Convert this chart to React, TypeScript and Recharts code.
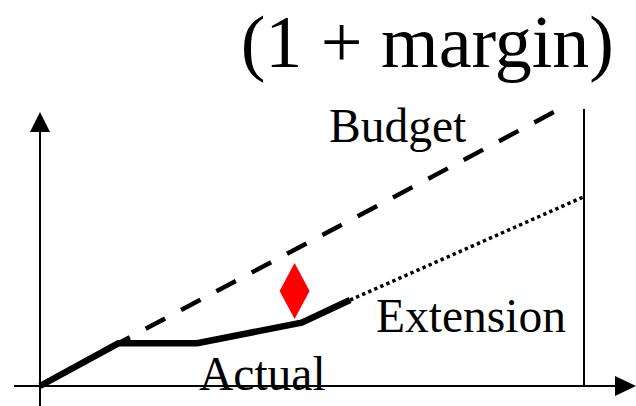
import { ComposedChart, Line, ReferenceDot, ReferenceLine, Scatter, XAxis, YAxis } from 'recharts';

// time in % of schedule (100 = deadline), cost in % of budget
const actual = [
  { x: 0, y: 0 },
  { x: 14.4, y: 15.7 },
  { x: 28.9, y: 15.7 },
  { x: 48.1, y: 23.3 },
  { x: 57.0, y: 31.6 },
];
const budget = [
  { x: 14.4, y: 15.7 },
  { x: 95.2, y: 101.5 },
];
const extension = [
  { x: 57.0, y: 31.6 },
  { x: 100, y: 69.6 },
];
const gap = [{ x: 46.8, y: 34.9 }];
const deadline = { x: 100, top: 101.8 };

const X_DOMAIN: [number, number] = [-4.779, 109.559];
const Y_DOMAIN: [number, number] = [-7.353, 102.94];
const Y_ARROW_TIP = 100.74;

const serif = '"Liberation Serif", "Times New Roman", serif';

const Diamond = (props: any) => {
  const { cx, cy } = props;
  return (
    <polygon
      points={`${cx},${cy - 28} ${cx + 15},${cy} ${cx},${cy + 28} ${cx - 15},${cy}`}
      fill="#ff0000"
    />
  );
};

const App = () => {
  return (
    <div style={{ position: 'absolute', left: 0, top: 0, width: 636, height: 406, background: '#fff' }}>
      <ComposedChart width={636} height={406} margin={{ top: 106, right: 0, bottom: 0, left: 14 }}>
        <XAxis type="number" dataKey="x" domain={X_DOMAIN} allowDataOverflow hide />
        <YAxis type="number" dataKey="y" domain={Y_DOMAIN} allowDataOverflow hide />
        <ReferenceLine
          segment={[{ x: X_DOMAIN[0], y: 0 }, { x: 105.7, y: 0 }]}
          stroke="#000"
          strokeWidth={2}
          ifOverflow="visible"
        />
        <ReferenceLine
          segment={[{ x: 0, y: Y_DOMAIN[0] }, { x: 0, y: 94 }]}
          stroke="#000"
          strokeWidth={2}
          ifOverflow="visible"
        />
        <ReferenceLine
          segment={[{ x: deadline.x, y: 0 }, { x: deadline.x, y: deadline.top }]}
          stroke="#000"
          strokeWidth={2}
          ifOverflow="visible"
        />
        <ReferenceDot
          x={0}
          y={Y_ARROW_TIP}
          ifOverflow="visible"
          shape={(p: any) => (
            <polygon points={`${p.cx},${p.cy} ${p.cx - 10},${p.cy + 20} ${p.cx + 10},${p.cy + 20}`} fill="#000" />
          )}
        />
        <ReferenceDot
          x={X_DOMAIN[1]}
          y={0}
          ifOverflow="visible"
          shape={(p: any) => (
            <polygon points={`${p.cx},${p.cy} ${p.cx - 21},${p.cy - 10} ${p.cx - 21},${p.cy + 10}`} fill="#000" />
          )}
        />
        <Line
          data={budget}
          dataKey="y"
          type="linear"
          stroke="#000"
          strokeWidth={4.5}
          strokeDasharray="22 18"
          strokeDashoffset={9}
          dot={false}
          isAnimationActive={false}
        />
        <Line
          data={extension}
          dataKey="y"
          type="linear"
          stroke="#000"
          strokeWidth={3.5}
          strokeDasharray="3.4 3.2"
          dot={false}
          isAnimationActive={false}
        />
        <Line
          data={actual}
          dataKey="y"
          type="linear"
          stroke="#000"
          strokeWidth={6.5}
          dot={false}
          isAnimationActive={false}
        />
        <Scatter data={gap} dataKey="y" fill="#ff0000" shape={Diamond} isAnimationActive={false} />
      </ComposedChart>
      <svg
        width={636}
        height={406}
        style={{ position: 'absolute', left: 0, top: 0, pointerEvents: 'none' }}
        fontFamily={serif}
      >
        <text x={614} y={67} fontSize={74} textAnchor="end" fill="#000">
          (1 + margin)
        </text>
        <text x={329} y={142} fontSize={47.5} fill="#000">
          Budget
        </text>
        <text x={376} y={332} fontSize={47.5} fill="#000">
          Extension
        </text>
        <text x={199} y={390} fontSize={47.5} fill="#000">
          Actual
        </text>
      </svg>
    </div>
  );
};

export default App;
